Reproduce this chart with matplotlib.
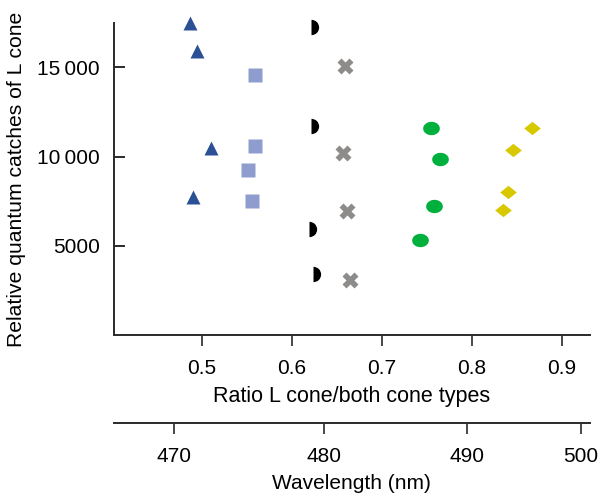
import matplotlib
matplotlib.use('Agg')
import numpy as np
import matplotlib.pyplot as plt
from matplotlib.path import Path
from matplotlib.markers import MarkerStyle
from matplotlib.ticker import FuncFormatter

plt.rcParams['font.family'] = ['Liberation Sans', 'DejaVu Sans']

# ------------ Data ---------------
# ratio L cone / both cone types, relative quantum catch of L cone
tri_x = [0.486, 0.494, 0.510, 0.490]
tri_y = [17480, 15940, 10480, 7750]

sq_x = [0.559, 0.559, 0.551, 0.555]
sq_y = [14600, 10590, 9250, 7520]

half_x = [0.621, 0.621, 0.619, 0.623]
half_y = [17280, 11700, 5960, 3430]

cross_x = [0.659, 0.657, 0.661, 0.664]
cross_y = [15100, 10180, 6930, 3070]

ell_x = [0.754, 0.765, 0.758, 0.742]
ell_y = [11580, 9880, 7210, 5310]

dia_x = [0.867, 0.846, 0.840, 0.834]
dia_y = [11630, 10370, 8010, 6980]

# wavelength scale (nm) and where it sits on the ratio axis
wl_labels = [470, 480, 490, 500]
wl_ratio = [0.469, 0.636, 0.795, 0.921]

ratio_ticks = [0.5, 0.6, 0.7, 0.8, 0.9]
catch_ticks = [5000, 10000, 15000]

# ------------ Markers ---------------
t = np.linspace(0, 2 * np.pi, 60)
ellipse = MarkerStyle(Path(np.column_stack([np.cos(t), 0.8 * np.sin(t)]), closed=True))
diamond = MarkerStyle(Path([(-1, 0), (0, 0.8), (1, 0), (0, -0.8), (-1, 0)], closed=True))

# ------------ Plot ---------------
fig = plt.figure(figsize=(6, 4.97), dpi=100)
ax = fig.add_axes([0.19, 0.326, 0.793, 0.628])

kw = dict(ls='none', mec='none', clip_on=False)
ax.plot(tri_x, tri_y, marker='^', color='#2c5096', ms=10, **kw)
ax.plot(sq_x, sq_y, marker='s', color='#8e9dcd', ms=9.5, **kw)
ax.plot(half_x, half_y, marker='o', color='black', ms=11, fillstyle='right',
        markerfacecoloralt='none', **kw)
ax.plot(cross_x, cross_y, marker='X', color='#8e8c8a', ms=12, **kw)
ax.plot(ell_x, ell_y, marker=ellipse, color='#00b03c', ms=12, **kw)
ax.plot(dia_x, dia_y, marker=diamond, color='#d8c800', ms=12, **kw)

ax.set_xlim(0.402, 0.931)
ax.set_ylim(0, 17500)
ax.set_xticks(ratio_ticks)
ax.set_yticks(catch_ticks)
ax.yaxis.set_major_formatter(FuncFormatter(
    lambda v, p: f'{int(v):,}'.replace(',', '\u2009') if v >= 10000 else f'{int(v)}'))

for s in ['top', 'right']:
    ax.spines[s].set_visible(False)
for s in ['left', 'bottom']:
    ax.spines[s].set_linewidth(1.4)
    ax.spines[s].set_color('#2a2a2a')

ax.tick_params(axis='x', direction='out', length=8, width=1.2, color='#2a2a2a',
               labelsize=15, pad=9)
ax.tick_params(axis='y', direction='in', length=8, width=1.4, color='#2a2a2a',
               labelsize=15, pad=10)
ax.set_xlabel('Ratio L cone/both cone types', fontsize=15.5, labelpad=6)
ax.set_ylabel('Relative quantum catches of L cone', fontsize=15.2, labelpad=8)

# wavelength axis underneath
ax2 = fig.add_axes([0.19, 0.149, 0.793, 0.0001])
ax2.set_xlim(ax.get_xlim())
ax2.set_yticks([])
for s in ['top', 'right', 'left']:
    ax2.spines[s].set_visible(False)
ax2.spines['bottom'].set_linewidth(1.4)
ax2.spines['bottom'].set_color('#2a2a2a')
ax2.set_xticks(wl_ratio)
ax2.set_xticklabels([str(w) for w in wl_labels])
ax2.tick_params(axis='x', direction='out', length=8, width=1.2, color='#2a2a2a',
                labelsize=15, pad=9)
ax2.set_xlabel('Wavelength (nm)', fontsize=15, labelpad=6)
ax2.patch.set_visible(False)

fig.savefig('out.png', dpi=100)
